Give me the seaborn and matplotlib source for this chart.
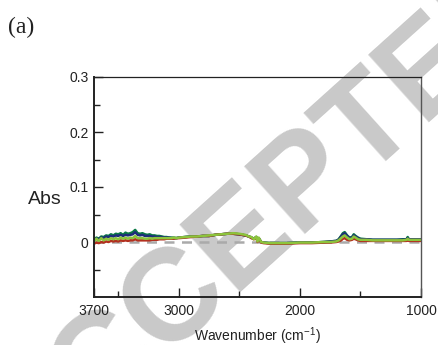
import matplotlib
matplotlib.use("Agg")
import matplotlib.pyplot as plt
import seaborn as sns
import pandas as pd

sns.set_theme(style="white")
plt.rcParams['font.family'] = ['Liberation Sans', 'DejaVu Sans']
plt.rcParams['mathtext.fontset'] = 'custom'
plt.rcParams['mathtext.rm'] = 'Liberation Sans'
plt.rcParams['mathtext.it'] = 'Liberation Sans:italic'
plt.rcParams['mathtext.default'] = 'regular'

wavenumber = [3700, 3680, 3660, 3640, 3620, 3600, 3580, 3560, 3540, 3520, 3500, 3480,
              3460, 3440, 3420, 3400, 3380, 3360, 3340, 3320, 3300, 3280, 3260, 3240,
              3220, 3200, 3180, 3160, 3140, 3120, 3100, 3080, 3060, 3040, 3020, 3000,
              2950, 2900, 2850, 2800, 2750, 2700, 2650, 2600, 2550, 2500, 2450, 2420,
              2400, 2380, 2360, 2350, 2340, 2320, 2300, 2250, 2200, 2100, 2000, 1900,
              1800, 1750, 1700, 1680, 1660, 1645, 1630, 1610, 1590, 1570, 1555, 1540,
              1520, 1500, 1450, 1400, 1300, 1200, 1150, 1120, 1110, 1100, 1000]

abs_darkgreen = [0.004, 0.008, 0.006, 0.010, 0.009, 0.012, 0.011, 0.014, 0.012, 0.015, 0.014, 0.016,
                 0.013, 0.017, 0.015, 0.016, 0.018, 0.022, 0.016, 0.015, 0.016, 0.014, 0.013, 0.014,
                 0.012, 0.012, 0.011, 0.011, 0.010, 0.009, 0.009, 0.008, 0.008, 0.008, 0.007, 0.008,
                 0.009, 0.010, 0.010, 0.011, 0.011, 0.013, 0.014, 0.015, 0.015, 0.014, 0.012, 0.010,
                 0.008, 0.006, 0.009, 0.002, 0.007, 0.000, -0.001, -0.002, -0.002, -0.002, -0.001, -0.001,
                 0.000, 0.001, 0.002, 0.005, 0.011, 0.016, 0.018, 0.012, 0.008, 0.009, 0.014, 0.011,
                 0.008, 0.006, 0.005, 0.004, 0.004, 0.004, 0.005, 0.005, 0.009, 0.005, 0.005]

abs_blue = [0.003, 0.006, 0.005, 0.008, 0.007, 0.010, 0.009, 0.011, 0.010, 0.012, 0.011, 0.013,
            0.011, 0.013, 0.012, 0.013, 0.014, 0.018, 0.013, 0.012, 0.013, 0.011, 0.011, 0.011,
            0.010, 0.010, 0.009, 0.009, 0.009, 0.008, 0.008, 0.008, 0.007, 0.007, 0.007, 0.008,
            0.009, 0.010, 0.010, 0.011, 0.011, 0.013, 0.014, 0.015, 0.015, 0.014, 0.012, 0.010,
            0.008, 0.006, 0.009, 0.002, 0.007, 0.000, -0.001, -0.002, -0.002, -0.002, -0.001, -0.001,
            0.000, 0.001, 0.002, 0.004, 0.010, 0.014, 0.016, 0.011, 0.007, 0.008, 0.012, 0.010,
            0.007, 0.005, 0.005, 0.004, 0.004, 0.004, 0.004, 0.005, 0.007, 0.005, 0.005]

abs_red = [-0.003, -0.001, -0.002, 0.000, -0.001, 0.001, 0.000, 0.002, 0.001, 0.002, 0.001, 0.003,
           0.002, 0.003, 0.002, 0.003, 0.003, 0.005, 0.003, 0.003, 0.003, 0.003, 0.003, 0.003,
           0.004, 0.004, 0.004, 0.005, 0.005, 0.005, 0.006, 0.006, 0.006, 0.006, 0.007, 0.007,
           0.008, 0.009, 0.010, 0.011, 0.011, 0.013, 0.014, 0.015, 0.015, 0.014, 0.012, 0.010,
           0.007, 0.005, 0.008, 0.000, 0.006, -0.001, -0.002, -0.003, -0.003, -0.003, -0.002, -0.002,
           -0.001, -0.001, 0.000, 0.001, 0.003, 0.006, 0.007, 0.004, 0.003, 0.004, 0.006, 0.005,
           0.003, 0.002, 0.002, 0.002, 0.002, 0.002, 0.002, 0.002, 0.004, 0.002, 0.002]

abs_lightgreen = [0.001, 0.006, 0.002, 0.007, 0.003, 0.006, 0.004, 0.007, 0.005, 0.007, 0.005, 0.008,
                  0.006, 0.008, 0.006, 0.008, 0.007, 0.011, 0.007, 0.007, 0.007, 0.006, 0.006, 0.007,
                  0.006, 0.007, 0.007, 0.007, 0.007, 0.007, 0.007, 0.007, 0.007, 0.008, 0.007, 0.008,
                  0.009, 0.010, 0.010, 0.011, 0.012, 0.013, 0.014, 0.015, 0.016, 0.015, 0.013, 0.010,
                  0.009, 0.005, 0.010, 0.001, 0.008, 0.000, -0.001, -0.002, -0.002, -0.002, -0.001, -0.001,
                  0.000, 0.000, 0.001, 0.003, 0.007, 0.010, 0.012, 0.008, 0.005, 0.006, 0.010, 0.008,
                  0.005, 0.004, 0.004, 0.003, 0.003, 0.003, 0.003, 0.004, 0.006, 0.004, 0.004]

series_names = ["s1", "s2", "s3", "s4"]
series_colors = ["#0b7a45", "#1f2d7a", "#b3301f", "#8cc43c"]
x_tick_vals = [3700, 3000, 2000, 1000]
x_tick_labels = ["3700", "3000", "2000", "1000"]
x_minor = [3500, 2500, 1500]
y_tick_vals = [0, 0.1, 0.2, 0.3]
y_tick_labels = ["0", "0.1", "0.2", "0.3"]
y_minor = [-0.05, 0.05, 0.15, 0.25]

frames = []
for name, vals in zip(series_names, [abs_darkgreen, abs_blue, abs_red, abs_lightgreen]):
    frames.append(pd.DataFrame({"wn": wavenumber, "abs": vals, "series": name}))
df = pd.concat(frames, ignore_index=True)

fig = plt.figure(figsize=(4.38, 3.45), dpi=100)
ax = fig.add_axes([94/438, 1-297/345, (421-94)/438, (297-77)/345])
ax.set_facecolor("none")

# watermark behind the plot
fig.text(268/438, 1-218/345, "ACCEPTED", fontsize=94, fontweight="bold",
         color="#c9c9c9", rotation=42, ha="center", va="center",
         rotation_mode="anchor", zorder=-5)

ax.axhline(0, color="#aaaaaa", lw=1.8, ls=(0, (4, 3)), zorder=1)
sns.lineplot(data=df, x="wn", y="abs", hue="series", palette=series_colors,
             estimator=None, sort=False, lw=1.8, legend=False, ax=ax, zorder=2)

ax.set_xlim(3700, 1000)
ax.set_ylim(-0.1, 0.3)
ax.set_xticks(x_tick_vals)
ax.set_xticklabels(x_tick_labels)
ax.set_xticks(x_minor, minor=True)
ax.set_yticks(y_tick_vals)
ax.set_yticklabels(y_tick_labels)
ax.set_yticks(y_minor, minor=True)
ax.tick_params(axis="both", which="major", direction="in", length=6.5, width=1,
               labelsize=10, colors="#222222", pad=5)
ax.tick_params(axis="both", which="minor", direction="in", length=4.3, width=1,
               colors="#222222")
ax.tick_params(axis="y", pad=4)
ax.tick_params(bottom=True, left=True, top=False, right=False, which="both")

for side in ["left", "bottom"]:
    ax.spines[side].set_linewidth(1.4)
    ax.spines[side].set_color("#222222")
ax.spines["top"].set_linewidth(0.9)
ax.spines["top"].set_color("#222222")
ax.spines["right"].set_linewidth(1.0)
ax.spines["right"].set_color("#555555")

ax.set_xlabel("")
ax.set_ylabel("")
fig.text(257/438, 1-336/345, "Wavenumber (cm$^{-1}$)", fontsize=10, color="#222222",
         ha="center", va="center")
fig.text(45/438, 1-199/345, "Abs", fontsize=14, color="#222222", ha="center", va="center")
fig.text(8/438, 1-27/345, "(a)", fontsize=17, family=["Liberation Serif", "DejaVu Serif"],
         color="#222222", ha="left", va="center")

fig.savefig("out.png", dpi=100)
